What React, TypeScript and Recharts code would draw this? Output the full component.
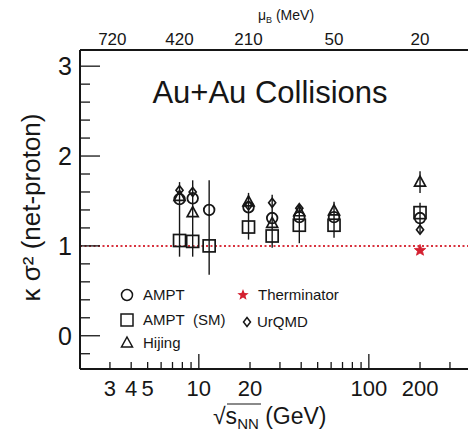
import React from 'react';
import { ComposedChart, Scatter, XAxis, YAxis, ReferenceLine, ErrorBar, Label } from 'recharts';

// ---- data ----
const energies = [7.7, 9.2, 11.5, 19.6, 27, 39, 62.4, 200];
const amptValues = [1.52, 1.53, 1.4, 1.43, 1.31, 1.32, 1.32, 1.31];
const amptErrLow = [0.64, 0.65, 0.72, 0.36, 0.33, 0.29, 0.23, 0.17];
const amptErrHigh = [0.19, 0.2, 0.33, 0.16, 0.26, 0.14, 0.17, 0.17];
const amptSmValues = [1.06, 1.05, 1.0, 1.21, 1.11, 1.23, 1.23, 1.37];
const hijingEnergies = [7.7, 9.2, 19.6, 27, 39, 62.4, 200];
const hijingValues = [1.55, 1.37, 1.49, 1.25, 1.38, 1.39, 1.71];
const hijingErr = [0, 0, 0, 0, 0, 0, 0.12];
const urqmdEnergies = [7.7, 9.2, 19.6, 27, 39, 200];
const urqmdValues = [1.62, 1.6, 1.45, 1.48, 1.42, 1.18];
const therminatorEnergies = [200];
const therminatorValues = [0.95];

const xTicks = [2, 3, 4, 5, 6, 7, 8, 9, 10, 20, 30, 40, 50, 60, 70, 80, 90, 100, 200, 300];
const xLabelTicks = [3, 4, 5, 10, 20, 100, 200];
const xLongTicks = [10, 100];
const yTicks = [-0.2, 0, 0.2, 0.4, 0.6, 0.8, 1, 1.2, 1.4, 1.6, 1.8, 2, 2.2, 2.4, 2.6, 2.8, 3];
const yLabelTicks = [0, 1, 2, 3];
const muBEnergies = [3.1, 7.7, 19.6, 62.4, 200];
const muBLabels = ['720', '420', '210', '50', '20'];

const amptData = energies.map((x, i) => ({ x, y: amptValues[i], err: [amptErrLow[i], amptErrHigh[i]] }));
const amptSmData = energies.map((x, i) => ({ x, y: amptSmValues[i] }));
const hijingData = hijingEnergies.map((x, i) => ({ x, y: hijingValues[i], err: hijingErr[i] }));
const urqmdData = urqmdEnergies.map((x, i) => ({ x, y: urqmdValues[i] }));
const therminatorData = therminatorEnergies.map((x, i) => ({ x, y: therminatorValues[i] }));
const muBAnchorData = muBEnergies.map((x) => ({ x, y: 1 }));

const FONT = '"Liberation Sans", Arial, Helvetica, sans-serif';
const INK = '#161616';

const starPath = (cx: number, cy: number, R: number, r: number) => {
  let d = '';
  for (let k = 0; k < 10; k++) {
    const a = -Math.PI / 2 + (k * Math.PI) / 5;
    const rr = k % 2 === 0 ? R : r;
    d += (k === 0 ? 'M' : 'L') + (cx + rr * Math.cos(a)).toFixed(2) + ',' + (cy + rr * Math.sin(a)).toFixed(2);
  }
  return d + 'Z';
};

const CircleShape = (p: any) => <circle cx={p.cx} cy={p.cy} r={5.3} fill="none" stroke={INK} strokeWidth={1.8} />;
const SquareShape = (p: any) => <rect x={p.cx - 6} y={p.cy - 6} width={12} height={12} fill="none" stroke={INK} strokeWidth={1.7} />;
const TriangleShape = (p: any) => (
  <path d={`M${p.cx},${p.cy - 6}L${p.cx + 5.5},${p.cy + 4}L${p.cx - 5.5},${p.cy + 4}Z`} fill="none" stroke={INK} strokeWidth={1.7} />
);
const DiamondShape = (p: any) => (
  <path d={`M${p.cx},${p.cy - 4.5}L${p.cx + 3.5},${p.cy}L${p.cx},${p.cy + 4.5}L${p.cx - 3.5},${p.cy}Z`} fill="none" stroke={INK} strokeWidth={1.7} />
);
const StarShape = (p: any) => <path d={starPath(p.cx, p.cy, 6, 2.6)} fill="#d42030" stroke="#d42030" strokeWidth={0.8} />;
const NoShape = () => <g />;

const BottomTick = (props: any) => {
  const { x, y, payload } = props;
  const v = payload.value;
  const long = xLongTicks.includes(v);
  const lab = xLabelTicks.includes(v);
  return (
    <g>
      <line x1={x} x2={x} y1={y} y2={y - (long ? 15 : 7)} stroke={INK} strokeWidth={1.3} />
      {lab && (
        <text x={x} y={y + 27} textAnchor="middle" fontSize={22} fontFamily={FONT} fill={INK}>
          {v}
        </text>
      )}
    </g>
  );
};

const TopTick = (props: any) => {
  const { x, y, payload } = props;
  const idx = muBEnergies.indexOf(payload.value);
  return (
    <text x={x} y={y - 5} textAnchor="middle" fontSize={17} fontFamily={FONT} fill={INK}>
      {idx >= 0 ? muBLabels[idx] : ''}
    </text>
  );
};

const LeftTick = (props: any) => {
  const { x, y, payload } = props;
  const v = payload.value;
  const major = yLabelTicks.includes(v);
  return (
    <g>
      <line x1={x} x2={x + (major ? 20 : 10)} y1={y} y2={y} stroke={INK} strokeWidth={1.3} />
      {major && (
        <text x={x - 8} y={y} dy="0.36em" textAnchor="end" fontSize={25} fontFamily={FONT} fill={INK}>
          {v}
        </text>
      )}
    </g>
  );
};

const RightTick = (props: any) => {
  const { x, y, payload } = props;
  const major = yLabelTicks.includes(payload.value);
  return <line x1={x} x2={x - (major ? 18 : 8)} y1={y} y2={y} stroke={INK} strokeWidth={1.3} />;
};

const YTitle = (props: any) => {
  const vb = props.viewBox || { x: 0, y: 50, width: 80, height: 319 };
  const cx = vb.x + 31;
  const cy = vb.y + vb.height / 2 - 2;
  return (
    <text x={cx} y={cy} transform={`rotate(-90 ${cx} ${cy})`} textAnchor="middle" dominantBaseline="central" fontSize={26} fontFamily={FONT} fill={INK}>
      κ σ² (net-proton)
    </text>
  );
};

const XTitle = (props: any) => {
  const vb = props.viewBox || { x: 80, y: 369, width: 388, height: 64 };
  const sx = vb.x + 133;
  const by = vb.y + 55;
  return (
    <g>
      <text x={sx} y={by} textAnchor="start" fontSize={23} fontFamily={FONT} fill={INK}>
        √s
        <tspan fontSize={15} dy={5}>NN</tspan>
        <tspan dy={-5}> (GeV)</tspan>
      </text>
      <line x1={sx + 14} x2={sx + 48} y1={by - 20} y2={by - 20} stroke={INK} strokeWidth={1.2} />
    </g>
  );
};

const TopTitle = (props: any) => {
  const vb = props.viewBox || { x: 80, y: 0, width: 388, height: 50 };
  const cx = vb.x + vb.width / 2 + 12;
  return (
    <text x={cx} y={vb.y + 20} textAnchor="middle" fontSize={14} fontFamily={FONT} fill={INK}>
      μ<tspan fontSize={9} dy={3}>B</tspan>
      <tspan dy={-3}> (MeV)</tspan>
    </text>
  );
};

export default function App() {
  return (
    <div style={{ position: 'absolute', left: 0, top: 0, width: 468, height: 433, background: '#fff' }}>
      <ComposedChart width={468} height={433} margin={{ top: 0, right: 0, bottom: 0, left: 0 }}>
        <XAxis
          xAxisId={0}
          dataKey="x"
          type="number"
          scale="log"
          domain={[2, 383]}
          allowDataOverflow
          ticks={xTicks}
          interval={0}
          tickSize={0}
          tickMargin={0}
          tick={<BottomTick />}
          height={64}
          axisLine={{ stroke: INK, strokeWidth: 2 }}
          tickLine={false}
        >
          <Label content={<XTitle />} />
        </XAxis>
        <XAxis
          xAxisId="top"
          orientation="top"
          dataKey="x"
          type="number"
          scale="log"
          domain={[2, 383]}
          allowDataOverflow
          ticks={muBEnergies}
          interval={0}
          tickSize={0}
          tickMargin={0}
          tick={<TopTick />}
          height={50}
          axisLine={{ stroke: INK, strokeWidth: 2 }}
          tickLine={false}
        >
          <Label content={<TopTitle />} />
        </XAxis>
        <YAxis
          yAxisId={0}
          type="number"
          domain={[-0.37, 3.18]}
          allowDataOverflow
          ticks={yTicks}
          interval={0}
          tickSize={0}
          tickMargin={0}
          tick={<LeftTick />}
          width={80}
          axisLine={{ stroke: INK, strokeWidth: 2 }}
          tickLine={false}
        >
          <Label content={<YTitle />} />
        </YAxis>
        <YAxis
          yAxisId="right"
          orientation="right"
          type="number"
          domain={[-0.37, 3.18]}
          allowDataOverflow
          ticks={yTicks}
          interval={0}
          tickSize={0}
          tickMargin={0}
          tick={<RightTick />}
          width={0}
          axisLine={{ stroke: INK, strokeWidth: 2 }}
          tickLine={false}
        />
        <ReferenceLine y={1} stroke="#d8323e" strokeWidth={2} strokeDasharray="2 2.5" />
        <Scatter data={muBAnchorData} xAxisId="top" yAxisId="right" dataKey="y" shape={NoShape} legendType="none" isAnimationActive={false} />
        <Scatter data={amptData} dataKey="y" shape={CircleShape} isAnimationActive={false}>
          <ErrorBar dataKey="err" direction="y" width={0} stroke={INK} strokeWidth={1.4} isAnimationActive={false} />
        </Scatter>
        <Scatter data={amptSmData} dataKey="y" shape={SquareShape} isAnimationActive={false} />
        <Scatter data={hijingData} dataKey="y" shape={TriangleShape} isAnimationActive={false}>
          <ErrorBar dataKey="err" direction="y" width={0} stroke={INK} strokeWidth={1.4} isAnimationActive={false} />
        </Scatter>
        <Scatter data={urqmdData} dataKey="y" shape={DiamondShape} isAnimationActive={false} />
        <Scatter data={therminatorData} dataKey="y" shape={StarShape} isAnimationActive={false} />
      </ComposedChart>
      <svg width={468} height={433} style={{ position: 'absolute', left: 0, top: 0, pointerEvents: 'none' }}>
        <text x={270} y={103} textAnchor="middle" fontSize={31} fontFamily={FONT} fill={INK}>
          Au+Au Collisions
        </text>
        <g fontFamily={FONT} fontSize={15} fill={INK}>
          <circle cx={127} cy={295} r={5.5} fill="none" stroke={INK} strokeWidth={1.5} />
          <text x={143} y={300}>AMPT</text>
          <rect x={121} y={314} width={12} height={12} fill="none" stroke={INK} strokeWidth={1.5} />
          <text x={143} y={325}>AMPT{'\u00a0\u00a0'}(SM)</text>
          <path d="M127,337L132.5,347L121.5,347Z" fill="none" stroke={INK} strokeWidth={1.5} />
          <text x={143} y={348}>Hijing</text>
          <path d={starPath(243, 295, 6, 2.6)} fill="#d42030" />
          <text x={258} y={300}>Therminator</text>
          <path d="M247,317.5L250.5,322L247,326.5L243.5,322Z" fill="none" stroke={INK} strokeWidth={1.5} />
          <text x={257} y={327}>UrQMD</text>
        </g>
      </svg>
    </div>
  );
}
